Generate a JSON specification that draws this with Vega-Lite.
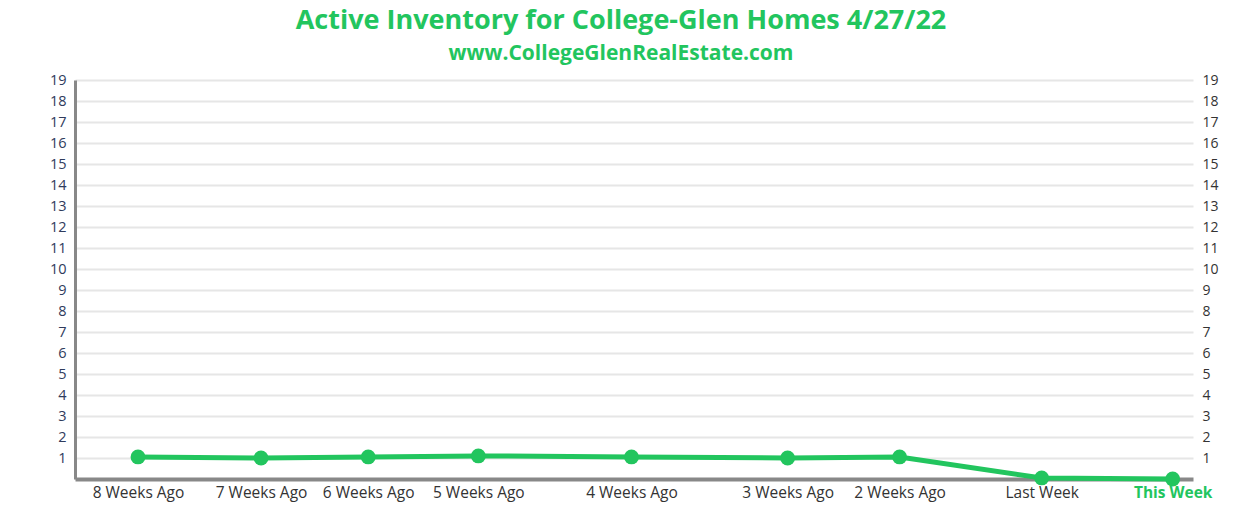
{
  "$schema": "https://vega.github.io/schema/vega-lite/v6.json",
  "autosize": {"type": "none"},
  "width": 1118,
  "height": 399,
  "padding": {"left": 75, "top": 80, "right": 59, "bottom": 36},
  "background": "white",
  "title": {
    "text": "Active Inventory for College-Glen Homes 4/27/22",
    "subtitle": "www.CollegeGlenRealEstate.com",
    "anchor": "middle",
    "dx": -13,
    "offset": 7,
    "font": "Open Sans",
    "fontSize": 27,
    "fontWeight": "bold",
    "color": "#22c55e",
    "subtitleFont": "Open Sans",
    "subtitleFontSize": 21,
    "subtitleFontWeight": "bold",
    "subtitleColor": "#22c55e",
    "subtitlePadding": 8
  },
  "data": {
    "values": [
      {"label": "8 Weeks Ago", "day": 0, "inventory": 1.05},
      {"label": "7 Weeks Ago", "day": 6.66, "inventory": 1.0},
      {"label": "6 Weeks Ago", "day": 12.46, "inventory": 1.05},
      {"label": "5 Weeks Ago", "day": 18.42, "inventory": 1.1},
      {"label": "4 Weeks Ago", "day": 26.71, "inventory": 1.05},
      {"label": "3 Weeks Ago", "day": 35.16, "inventory": 1.0},
      {"label": "2 Weeks Ago", "day": 41.22, "inventory": 1.05},
      {"label": "Last Week", "day": 48.91, "inventory": 0.05},
      {"label": "This Week", "day": 56, "inventory": 0}
    ]
  },
  "encoding": {
    "x": {
      "field": "day",
      "type": "quantitative",
      "scale": {"domain": [-3.41, 57.1], "nice": false, "zero": false},
      "axis": {
        "title": null,
        "grid": false,
        "ticks": false,
        "values": [0, 6.66, 12.46, 18.42, 26.71, 35.16, 41.22, 48.91, 56],
        "labelExpr": "datum.value == 0 ? '8 Weeks Ago' : datum.value == 6.66 ? '7 Weeks Ago' : datum.value == 12.46 ? '6 Weeks Ago' : datum.value == 18.42 ? '5 Weeks Ago' : datum.value == 26.71 ? '4 Weeks Ago' : datum.value == 35.16 ? '3 Weeks Ago' : datum.value == 41.22 ? '2 Weeks Ago' : datum.value == 48.91 ? 'Last Week' : 'This Week'",
        "labelFont": "Open Sans",
        "labelFontSize": 15.5,
        "labelColor": {"condition": {"test": "datum.value == 56", "value": "#22c55e"}, "value": "#333333"},
        "labelFontWeight": {"condition": {"test": "datum.value == 56", "value": "bold"}, "value": "normal"},
        "labelPadding": 6,
        "labelOverlap": false,
        "labelFlush": false,
        "domainColor": "#888888",
        "domainWidth": 4
      }
    },
    "y": {
      "field": "inventory",
      "type": "quantitative",
      "scale": {"domain": [0, 19], "nice": false}
    }
  },
  "layer": [
    {
      "mark": {"type": "line", "color": "#22c55e", "strokeWidth": 5},
      "encoding": {
        "y": {
          "field": "inventory",
          "type": "quantitative",
          "axis": {
            "title": null,
            "orient": "left",
            "values": [1,2,3,4,5,6,7,8,9,10,11,12,13,14,15,16,17,18,19],
            "grid": true,
            "gridColor": "#e6e6e6",
            "gridWidth": 2,
            "ticks": false,
            "labelFont": "Open Sans",
            "labelFontSize": 14.5,
            "labelColor": "#2f3b5c",
            "labelPadding": 9,
            "domainColor": "#888888",
            "domainWidth": 3
          }
        }
      }
    },
    {
      "mark": {"type": "point", "filled": true, "opacity": 1, "color": "#22c55e", "size": 220},
      "encoding": {
        "y": {
          "field": "inventory",
          "type": "quantitative",
          "axis": {
            "title": null,
            "orient": "right",
            "values": [1,2,3,4,5,6,7,8,9,10,11,12,13,14,15,16,17,18,19],
            "grid": false,
            "ticks": false,
            "domain": false,
            "labelFont": "Open Sans",
            "labelFontSize": 14,
            "labelColor": "#333333",
            "labelPadding": 9
          }
        }
      }
    }
  ],
  "resolve": {"axis": {"y": "independent"}},
  "config": {"view": {"stroke": null}}
}
